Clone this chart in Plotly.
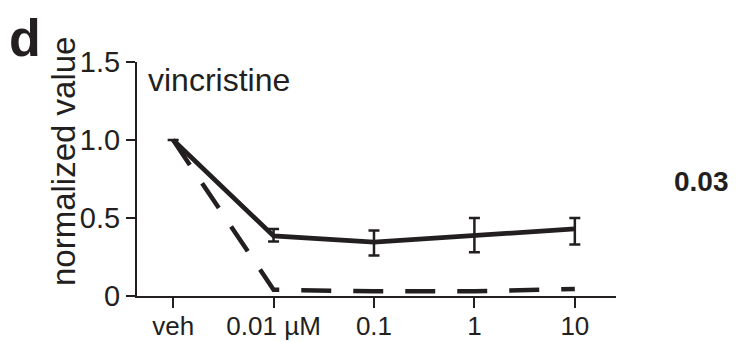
import plotly.graph_objects as go

categories = ["veh", "0.01 µM", "0.1", "1", "10"]
x_pos = [0, 1, 2, 3, 4]
solid_values = [1.0, 0.385, 0.345, 0.39, 0.43]
solid_err_plus = [0.0, 0.045, 0.075, 0.11, 0.07]
solid_err_minus = [0.0, 0.035, 0.085, 0.11, 0.10]
dashed_values = [1.0, 0.04, 0.03, 0.03, 0.045]
y_ticks = [0, 0.5, 1.0, 1.5]
y_ticklabels = ["0", "0.5", "1.0", "1.5"]

ink = "#231f20"
font_family = "Liberation Sans, Arial, Helvetica, sans-serif"

# page body has an 8px default margin; lay out in screen coordinates minus that
OFF = 8
W, H = 739, 342
L, T = 137 - OFF, 62 - OFF
R_EDGE, B_EDGE = 616 - OFF, 296 - OFF
PW, PH = R_EDGE - L, B_EDGE - T


def px(sx):
    return (sx - OFF - L) / PW


def py(sy):
    return (B_EDGE - (sy - OFF)) / PH


fig = go.Figure()
fig.add_trace(go.Scatter(
    x=x_pos, y=dashed_values, mode="lines",
    line=dict(color=ink, width=4.5, dash="30px,22px"),
    showlegend=False, hoverinfo="skip"))
fig.add_trace(go.Scatter(
    x=x_pos, y=solid_values, mode="lines",
    line=dict(color=ink, width=4.7),
    error_y=dict(type="data", symmetric=False, array=solid_err_plus,
                 arrayminus=solid_err_minus, color=ink, thickness=2.5, width=5.5),
    showlegend=False, hoverinfo="skip"))

fig.update_layout(
    width=W, height=H,
    margin=dict(l=L, r=W - R_EDGE, t=T, b=H - B_EDGE, autoexpand=False),
    paper_bgcolor="white", plot_bgcolor="white",
    font=dict(family=font_family, color=ink),
    xaxis=dict(range=[-0.36, 4.41], tickvals=x_pos, ticktext=categories,
               showgrid=False, zeroline=False, showline=True, linecolor=ink,
               linewidth=2, ticks="outside", ticklen=10, tickwidth=2,
               tickcolor=ink, tickfont=dict(size=26, color=ink),
               ticklabelstandoff=-4, automargin=False),
    yaxis=dict(range=[0, 1.5], tickvals=y_ticks, ticktext=y_ticklabels,
               showgrid=False, zeroline=False, showline=True, linecolor=ink,
               linewidth=2, ticks="outside", ticklen=9, tickwidth=2,
               tickcolor=ink, tickfont=dict(size=29, color=ink), automargin=False),
    annotations=[
        dict(text="normalized value", textangle=-90, xref="paper", yref="paper",
             x=px(63), y=py(162), xanchor="center", yanchor="middle",
             showarrow=False, font=dict(size=33, color=ink)),
        dict(text="vincristine", xref="paper", yref="paper", x=px(146),
             y=py(80), xanchor="left", yanchor="middle", showarrow=False,
             font=dict(size=32, color=ink)),
        dict(text="<b>d</b>", xref="paper", yref="paper", x=px(25),
             y=py(38), xanchor="center", yanchor="middle", showarrow=False,
             font=dict(size=52, color=ink)),
        dict(text="<b>0.03</b>", xref="paper", yref="paper", x=px(701),
             y=py(181), xanchor="center", yanchor="middle", showarrow=False,
             font=dict(size=28, color=ink)),
    ],
)

fig.write_html("out.html")
